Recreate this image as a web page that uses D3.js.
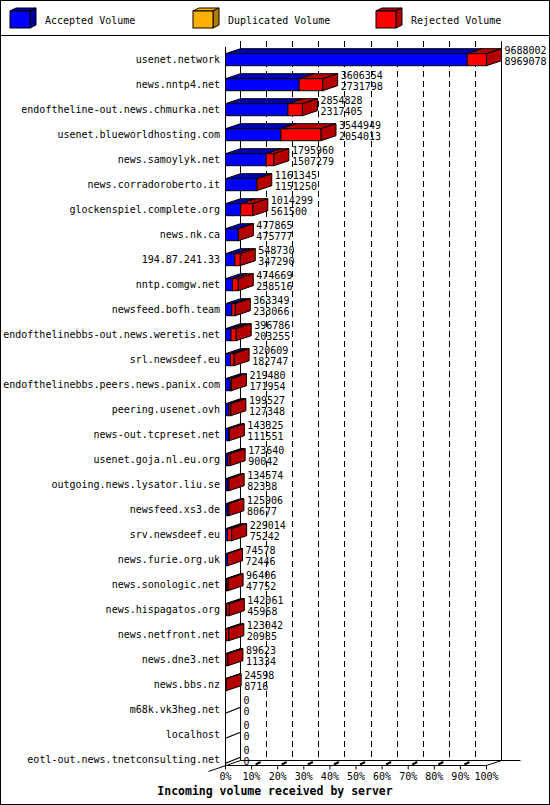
<!DOCTYPE html>
<html>
<head>
<meta charset="utf-8">
<script src="https://cdn.jsdelivr.net/npm/d3@7"></script>
<style>
  body { margin: 0; background: #fff; }
  text { font-family: "DejaVu Sans Mono", monospace; font-size: 10px; }
</style>
</head>
<body>
<div id="wrapper"></div>
<script>
const servers = [
  "usenet.network", "news.nntp4.net", "endoftheline-out.news.chmurka.net",
  "usenet.blueworldhosting.com", "news.samoylyk.net", "news.corradoroberto.it",
  "glockenspiel.complete.org", "news.nk.ca", "194.87.241.33", "nntp.comgw.net",
  "newsfeed.bofh.team", "endofthelinebbs-out.news.weretis.net", "srl.newsdeef.eu",
  "endofthelinebbs.peers.news.panix.com", "peering.usenet.ovh", "news-out.tcpreset.net",
  "usenet.goja.nl.eu.org", "outgoing.news.lysator.liu.se", "newsfeed.xs3.de",
  "srv.newsdeef.eu", "news.furie.org.uk", "news.sonologic.net", "news.hispagatos.org",
  "news.netfront.net", "news.dne3.net", "news.bbs.nz", "m68k.vk3heg.net",
  "localhost", "eotl-out.news.tnetconsulting.net"
]
const totalVolume = [
  9688002, 3606354, 2854828, 3544949, 1795960, 1161345, 1014299, 477865, 548730,
  474669, 363349, 396786, 320609, 219480, 199527, 143325, 173640, 134574, 125906,
  229014, 74578, 96406, 142061, 123042, 89623, 24598, 0, 0, 0
]
const acceptedVolume = [
  8969078, 2731798, 2317405, 2054013, 1507279, 1151250, 561500, 475777, 347290,
  258516, 233066, 203255, 182747, 171954, 127348, 111551, 90042, 82338, 80677,
  75242, 72446, 47752, 45968, 20985, 11334, 8716, 0, 0, 0
]
const duplicatedVolume = [
  0, 0, 0, 0, 0, 0, 0, 0, 0, 0, 0, 0, 0, 0, 0, 0, 0, 0, 0, 0, 0, 0, 0, 0, 0, 0, 0, 0, 0
]
const legendLabels = ["Accepted Volume", "Duplicated Volume", "Rejected Volume"]
const percentTicks = [0, 10, 20, 30, 40, 50, 60, 70, 80, 90, 100]
const axisTitle = "Incoming volume received by server"

const colors = [
  {front: "#0000ff", top: "#0000b4", side: "#0000a0"},
  {front: "#ffb000", top: "#ffb000", side: "#b07c00"},
  {front: "#ff0000", top: "#b40000", side: "#b40000"}
]

const dimensions = {
  width: 550,
  height: 805,
  legendHeight: 35,
  plotLeft: 225,
  plotRight: 486,
  floor: 765,
  top: 46.5,
  depthX: 15,
  depthY: -5,
  barHalf: 6
}
const dx = dimensions.depthX
const dy = dimensions.depthY

const wrapper = d3.select("#wrapper")
  .append("svg")
    .attr("width", dimensions.width)
    .attr("height", dimensions.height)

wrapper.append("rect")
    .attr("x", 0.5).attr("y", 0.5)
    .attr("width", dimensions.width - 1).attr("height", dimensions.height - 1)
    .attr("fill", "#fff").attr("stroke", "#000")

wrapper.append("line")
    .attr("x1", 0).attr("x2", dimensions.width)
    .attr("y1", dimensions.legendHeight + 0.5).attr("y2", dimensions.legendHeight + 0.5)
    .attr("stroke", "#000")

// legend
const legend = wrapper.selectAll(".legend")
  .data(legendLabels)
  .enter().append("g")
    .attr("transform", (d, i) => `translate(${10 + i * 183}, 0)`)

legend.append("path")
    .attr("d", "M0,11 L6,8 L26,8 L20,11 Z")
    .attr("fill", (d, i) => colors[i].top)
    .attr("stroke", "#000")
legend.append("path")
    .attr("d", "M20,11 L26,8 L26,25 L20,28 Z")
    .attr("fill", (d, i) => colors[i].side)
    .attr("stroke", "#000")
legend.append("rect")
    .attr("x", 0).attr("y", 11).attr("width", 20).attr("height", 17)
    .attr("fill", (d, i) => colors[i].front)
    .attr("stroke", "#000")
legend.append("text")
    .attr("x", 35).attr("y", 20).attr("dy", "0.35em")
    .text(d => d)

// scales
const xScale = d3.scaleLinear()
    .domain([0, d3.max(totalVolume)])
    .range([dimensions.plotLeft, dimensions.plotRight])

const pctScale = d3.scaleLinear()
    .domain([0, 100])
    .range([dimensions.plotLeft, dimensions.plotRight])

const yScale = d3.scalePoint()
    .domain(servers)
    .range([59.2, 759.2])

const plot = wrapper.append("g")
    .attr("transform", "translate(0.5,0.5)")

// back wall grid
plot.selectAll(".grid")
  .data(percentTicks.filter(d => d > 0 && d < 100))
  .enter().append("line")
    .attr("x1", d => Math.round(pctScale(d) + dx))
    .attr("x2", d => Math.round(pctScale(d) + dx))
    .attr("y1", dimensions.top + dy - 1)
    .attr("y2", dimensions.floor + dy)
    .attr("stroke", "#000")
    .attr("stroke-dasharray", "6,4")

const walls = [
  [dimensions.plotLeft, dimensions.top, dimensions.plotLeft, dimensions.floor],
  [dimensions.plotLeft + dx, dimensions.top + dy - 1, dimensions.plotLeft + dx, dimensions.floor + dy],
  [dimensions.plotRight + dx, dimensions.top + dy - 1, dimensions.plotRight + dx, dimensions.floor + dy],
  [dimensions.plotLeft, dimensions.floor, dimensions.plotRight, dimensions.floor],
  [dimensions.plotLeft + dx, dimensions.floor + dy, dimensions.plotRight + dx + 19, dimensions.floor + dy],
  [dimensions.plotLeft - 17, dimensions.floor + 6, dimensions.plotLeft + dx, dimensions.floor + dy],
  [dimensions.plotRight, dimensions.floor, dimensions.plotRight + dx, dimensions.floor + dy]
]
plot.selectAll(".wall")
  .data(walls)
  .enter().append("line")
    .attr("x1", d => d[0]).attr("y1", d => d[1])
    .attr("x2", d => d[2]).attr("y2", d => d[3])
    .attr("stroke", "#000")

// floor tick marks
plot.selectAll(".depthTick")
  .data(percentTicks.filter(d => d > 0 && d < 100))
  .enter().append("line")
    .attr("x1", d => pctScale(d) + 4).attr("y1", dimensions.floor - 1)
    .attr("x2", d => pctScale(d) + 9).attr("y2", dimensions.floor - 3.5)
    .attr("stroke", "#000")
    .attr("stroke-width", 2)

const xAxisGenerator = d3.axisBottom()
    .scale(pctScale)
    .tickValues(percentTicks)
    .tickFormat(d => d + "%")
    .tickSize(4)
    .tickSizeOuter(0)
    .tickPadding(3)

const xAxis = wrapper.append("g")
    .attr("transform", `translate(0, ${dimensions.floor + 0.5})`)
    .call(xAxisGenerator)
xAxis.select(".domain").remove()
xAxis.selectAll("text")
    .attr("fill", "#000")
    .style("font-family", "DejaVu Sans Mono, monospace")
    .style("font-size", "10px")
xAxis.selectAll("line").attr("stroke", "#000")

wrapper.append("text")
    .attr("x", dimensions.width / 2)
    .attr("y", 795)
    .attr("text-anchor", "middle")
    .style("font-weight", "bold")
    .style("font-size", "11.5px")
    .text(axisTitle)

// bars
const rows = servers.map((name, i) => {
  const accepted = acceptedVolume[i]
  const duplicated = duplicatedVolume[i]
  const rejected = totalVolume[i] - accepted - duplicated
  let start = 0
  const segments = [accepted, duplicated, rejected].map((v, k) => {
    const seg = {k, x0: start, x1: start + v, value: v}
    start += v
    return seg
  }).filter(s => s.value > 0)
  return {name, total: totalVolume[i], accepted, segments}
})

const rowGroups = plot.selectAll(".row")
  .data(rows)
  .enter().append("g")

rowGroups.each(function (d) {
  const g = d3.select(this)
  const yc = yScale(d.name)
  const yTop = yc - dimensions.barHalf
  const yBot = yc + dimensions.barHalf
  if (d.segments.length === 0) return
  d.segments.forEach(s => {
    const a = xScale(s.x0), b = xScale(s.x1)
    g.append("path")
        .attr("d", `M${a},${yTop} L${a + dx},${yTop + dy} L${b + dx},${yTop + dy} L${b},${yTop} Z`)
        .attr("fill", colors[s.k].top)
        .attr("stroke", "#000")
    g.append("rect")
        .attr("x", a).attr("y", yTop)
        .attr("width", b - a).attr("height", yBot - yTop)
        .attr("fill", colors[s.k].front)
        .attr("stroke", "#000")
  })
  const last = d.segments[d.segments.length - 1]
  const e = xScale(last.x1)
  g.append("path")
      .attr("d", `M${e},${yTop} L${e + dx},${yTop + dy} L${e + dx},${yBot + dy} L${e},${yBot} Z`)
      .attr("fill", colors[last.k].side)
      .attr("stroke", "#000")
})

// empty servers: only the slanted edge of a flat box shows
const emptyRows = rows.filter(r => r.total === 0)
wrapper.selectAll("line.zero")
  .data(emptyRows)
  .enter().append("line")
    .attr("class", "zero")
    .attr("x1", xScale(0) + 0.5)
    .attr("y1", r => yScale(r.name) + 4)
    .attr("x2", xScale(0) + dx + 0.5)
    .attr("y2", r => yScale(r.name) - 2)
    .attr("stroke", "#000")
    .attr("stroke-width", 1.2)

// value labels
rowGroups.append("text")
    .attr("x", d => xScale(d.total) + dx + 3)
    .attr("y", d => yScale(d.name) - 9.5)
    .attr("dy", "0.35em")
    .text(d => d.total)
rowGroups.append("text")
    .attr("x", d => xScale(d.total) + dx + 3)
    .attr("y", d => yScale(d.name) + 1.5)
    .attr("dy", "0.35em")
    .text(d => d.accepted)

// server labels
wrapper.selectAll(".server")
  .data(servers)
  .enter().append("text")
    .attr("x", 220)
    .attr("y", d => yScale(d))
    .attr("dy", "0.35em")
    .attr("text-anchor", "end")
    .text(d => d)
</script>
</body>
</html>
